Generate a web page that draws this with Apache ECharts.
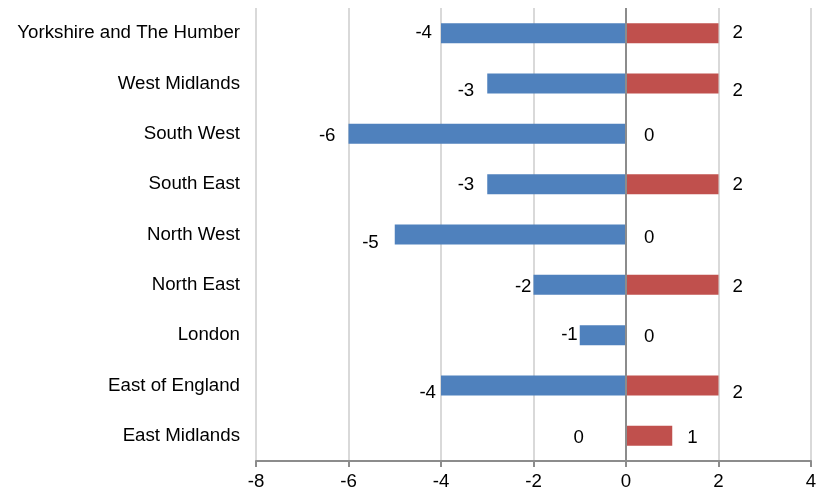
<!DOCTYPE html>
<html><head><meta charset="utf-8">
<script src="https://cdn.jsdelivr.net/npm/echarts@6/dist/echarts.min.js"></script>
<style>html,body{margin:0;padding:0;background:#fff}#c{width:827px;height:496px}</style>
</head><body><div id="c"></div>
<script>
// Data (bottom to top)
const categories = ['East Midlands','East of England','London','North East','North West','South East','South West','West Midlands','Yorkshire and The Humber'];
const negValues = [0,-4,-1,-2,-5,-3,-6,-3,-4];
const posValues = [1,2,0,2,0,2,0,2,2];
const xTicks = [-8,-6,-4,-2,0,2,4];

// Label placement styles (distance from bar end, vertical shift), bottom to top
const negLabelStyle = [[42,2],[5,7],[2,0],[2,2],[16,8],[13,1],[13,2],[13,7],[9,0]];
const posLabelStyle = [[15,2],[14,7],[18,2],[14,2],[18,3],[14,1],[18,2],[14,7],[14,0]];

const FONT = 'Liberation Sans, Arial, sans-serif';
const FS = 18.7;
const chart = echarts.init(document.getElementById('c'));
function items(vals, styles, pos){
  return vals.map((v,i)=>({value:v,label:{show:true,position:pos,distance:styles[i][0],offset:[0,styles[i][1]]}}));
}
chart.setOption({
  animation:false,
  grid:{left:256,right:16,top:8,bottom:35,containLabel:false},
  xAxis:{type:'value',min:-8,max:4,interval:2,
    axisLine:{show:true,onZero:false,lineStyle:{color:'#8c8c8c',width:2}},
    axisTick:{show:true,length:6,lineStyle:{color:'#8c8c8c',width:2}},
    axisLabel:{color:'#000',fontSize:FS,fontFamily:FONT,margin:11,
      formatter:v=>xTicks.indexOf(v)>=0?String(v):''},
    splitLine:{show:true,lineStyle:{color:'#d9d9d9',width:2}}},
  yAxis:{type:'category',data:categories,
    axisLine:{show:false},axisTick:{show:false},
    axisLabel:{color:'#000',fontSize:FS,fontFamily:FONT,margin:16}},
  series:[
    {type:'bar',data:items(negValues,negLabelStyle,'left'),barWidth:20,barGap:'-100%',
      itemStyle:{color:'#4F81BD'},
      label:{color:'#000',fontSize:FS,fontFamily:FONT},
      markLine:{silent:true,symbol:'none',label:{show:false},
        lineStyle:{color:'#8c8c8c',type:'solid',width:2},data:[{xAxis:0}]}},
    {type:'bar',data:items(posValues,posLabelStyle,'right'),barWidth:20,barGap:'-100%',
      itemStyle:{color:'#C0504D'},
      label:{color:'#000',fontSize:FS,fontFamily:FONT}}
  ]
});
</script></body></html>
